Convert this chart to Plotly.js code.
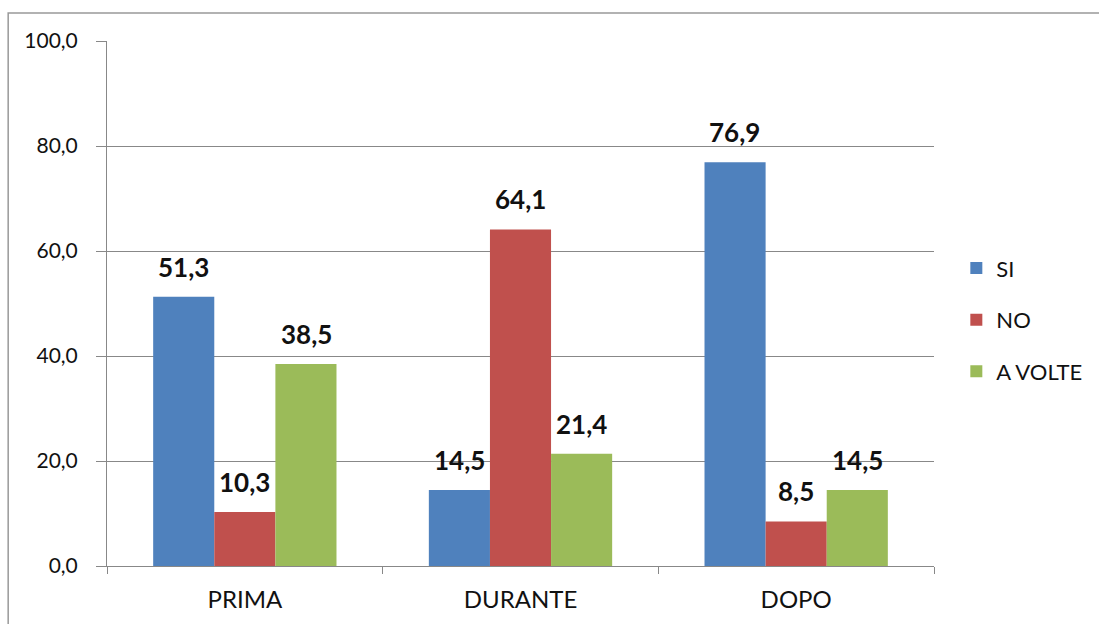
<!DOCTYPE html>
<html>
<head>
<meta charset="utf-8">
<script src="https://cdn.plot.ly/plotly-3.0.1.min.js"></script>
<style>
  html, body { margin: 0; padding: 0; background: #fff; }
  #chart { width: 1099px; height: 624px; }
</style>
</head>
<body>
<div id="chart"></div>
<script>
// Periods and answer shares (%)
const categories = ['PRIMA', 'DURANTE', 'DOPO'];
const siValues = [51.3, 14.5, 76.9];
const noValues = [10.3, 64.1, 8.5];
const aVolteValues = [38.5, 21.4, 14.5];
const seriesNames = ['SI', 'NO', 'A VOLTE'];
const seriesColors = ['#4F81BD', '#C0504D', '#9BBB59'];
const yTicks = [0, 20, 40, 60, 80, 100];

const font = 'Lato, "Open Sans", sans-serif';
const W = 1099, H = 624;
const margin = { l: 107, r: 163, t: 41, b: 58 };
const bargap = 0.335;

function fmt(v) { return v.toFixed(1).replace('.', ','); }

const allSeries = [siValues, noValues, aVolteValues];

const traces = allSeries.map((vals, i) => ({
  type: 'bar',
  name: seriesNames[i],
  legendgroup: seriesNames[i],
  x: categories,
  y: vals,
  marker: { color: seriesColors[i] },
  hoverinfo: 'skip'
}));

// value labels above each bar, shifted sideways to their bar within the group
const plotW = W - margin.l - margin.r;
const barPx = plotW / categories.length * (1 - bargap) / allSeries.length;
const annotations = [];
allSeries.forEach((vals, i) => {
  vals.forEach((v, j) => {
    annotations.push({
      x: categories[j], y: v,
      xref: 'x', yref: 'y',
      text: fmt(v),
      showarrow: false,
      xshift: (i - (allSeries.length - 1) / 2) * barPx,
      yanchor: 'bottom',
      yshift: 12,
      font: { family: font, size: 26, color: '#111', weight: 700 }
    });
  });
});

const layout = {
  width: W,
  height: H,
  margin: margin,
  paper_bgcolor: '#fff',
  plot_bgcolor: '#fff',
  separators: ',.',
  barmode: 'group',
  bargap: bargap,
  bargroupgap: 0,
  showlegend: true,
  font: { family: font, color: '#111' },
  xaxis: {
    type: 'category',
    showline: true,
    linecolor: '#888',
    linewidth: 1,
    ticks: 'outside',
    tickson: 'boundaries',
    ticklen: 7,
    tickcolor: '#888',
    showgrid: false,
    tickfont: { family: font, size: 24, color: '#111' },
    ticklabelstandoff: 12
  },
  yaxis: {
    range: [0, 100],
    tickvals: yTicks,
    ticktext: yTicks.map(fmt),
    showline: true,
    linecolor: '#888',
    linewidth: 1,
    ticks: 'outside',
    ticklen: 10,
    tickcolor: '#888',
    showgrid: true,
    gridcolor: '#888',
    gridwidth: 1,
    zeroline: false,
    tickfont: { family: font, size: 21, color: '#111' },
    ticklabelstandoff: 14
  },
  legend: {
    x: 1.027,
    y: 0.469,
    xanchor: 'left',
    yanchor: 'middle',
    traceorder: 'grouped',
    font: { family: font, size: 22, color: '#111' },
    itemwidth: 30,
    tracegroupgap: 20,
    bgcolor: 'rgba(0,0,0,0)'
  },
  annotations: annotations,
  shapes: [{
    type: 'rect',
    xref: 'paper', yref: 'paper',
    x0: -0.1195, x1: 1.25,
    y0: -0.2, y1: 1.0533,
    line: { color: '#999', width: 1.5 },
    fillcolor: 'rgba(0,0,0,0)',
    layer: 'below'
  }]
};

Plotly.newPlot('chart', traces, layout, { displayModeBar: false, staticPlot: true });
</script>
</body>
</html>
